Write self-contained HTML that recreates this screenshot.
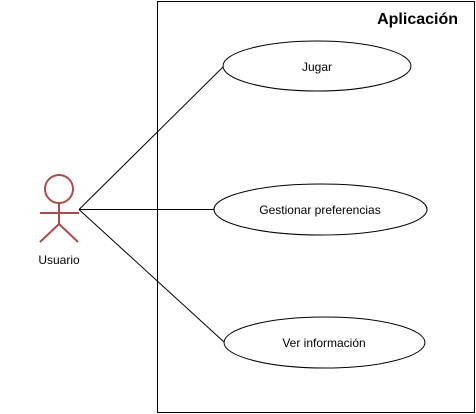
<!DOCTYPE html>
<html><head><meta charset="utf-8"><style>
html,body{margin:0;padding:0;background:#fff;width:476px;height:414px;overflow:hidden}
svg{display:block}
text{font-family:"Liberation Sans",Arial,sans-serif}
</style></head><body>
<svg width="476" height="414" viewBox="0 0 476 414" xmlns="http://www.w3.org/2000/svg">
<rect x="157.5" y="1.5" width="317" height="411" fill="#fff" stroke="#000" stroke-width="1"/>
<text x="458" y="24" font-size="16" font-weight="bold" text-anchor="end">Aplicación</text>
<g stroke="#000" stroke-width="1" fill="none">
<line x1="79" y1="209.5" x2="223" y2="67"/>
<line x1="79" y1="209.5" x2="214" y2="209.5"/>
<line x1="79" y1="209.5" x2="224" y2="342"/>
<ellipse cx="317" cy="66" rx="94" ry="25" fill="#fff"/>
<ellipse cx="320.5" cy="209.5" rx="106.5" ry="25.5" fill="#fff"/>
<ellipse cx="324.5" cy="342.5" rx="100.5" ry="25.5" fill="#fff"/>
</g>
<text x="317" y="71" font-size="12" text-anchor="middle">Jugar</text>
<text x="320" y="214" font-size="12" text-anchor="middle">Gestionar preferencias</text>
<text x="324" y="347" font-size="12" text-anchor="middle">Ver información</text>
<g stroke="#b04a4a" stroke-width="2" fill="none">
<circle cx="59" cy="189" r="14"/>
<line x1="59" y1="203" x2="59" y2="224"/>
<line x1="40" y1="213" x2="79" y2="213"/>
<line x1="59" y1="224" x2="40" y2="242"/>
<line x1="59" y1="224" x2="78" y2="242"/>
</g>
<text x="59" y="264" font-size="12" text-anchor="middle">Usuario</text>
</svg>
</body></html>
